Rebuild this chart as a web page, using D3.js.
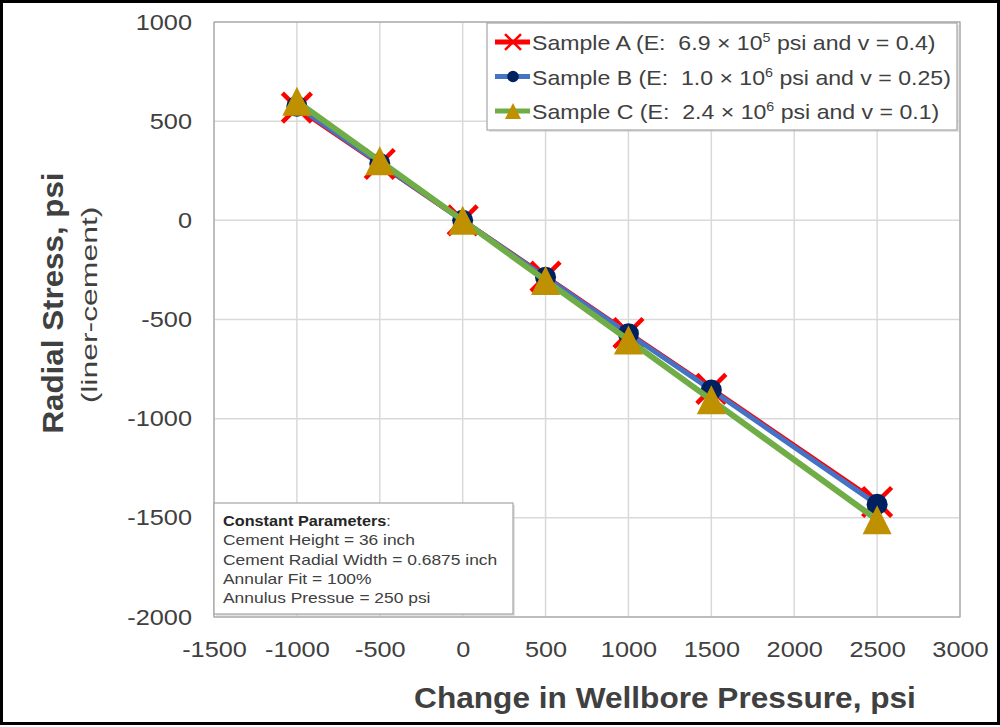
<!DOCTYPE html>
<html>
<head>
<meta charset="utf-8">
<script src="https://cdn.jsdelivr.net/npm/d3@7"></script>
<style>
  html, body { margin: 0; padding: 0; background: #fff; }
  svg { display: block; font-family: "Liberation Sans", Arial, sans-serif; }
  text { white-space: pre; }
</style>
</head>
<body>
<svg id="chart" width="1000" height="727"></svg>
<script>
// Change in wellbore pressure (psi) at which radial stress was evaluated
const pressures = [-1000, -500, 0, 500, 1000, 1500, 2500];

// Radial stress at the liner-cement interface (psi)
const sampleA = [568, 284, 0, -284, -568, -850, -1420];
const sampleB = [575, 287, 0, -287, -572, -855, -1432];
const sampleC = [600, 300, 0, -303, -603, -905, -1510];

const xTicks = [-1500, -1000, -500, 0, 500, 1000, 1500, 2000, 2500, 3000];
const yTicks = [-2000, -1500, -1000, -500, 0, 500, 1000];

const seriesNames = [
  ["Sample A (E:  6.9 × 10", "5", " psi and v = 0.4)"],
  ["Sample B (E:  1.0 × 10", "6", " psi and v = 0.25)"],
  ["Sample C (E:  2.4 × 10", "6", " psi and v = 0.1)"]
];

const noteTitle = "Constant Parameters";
const noteLines = [
  "Cement Height = 36 inch",
  "Cement Radial Width = 0.6875 inch",
  "Annular Fit = 100%",
  "Annulus Pressue = 250 psi"
];

const svg = d3.select("#chart");
const W = 1000, H = 727;
const plot = { left: 214, right: 960, top: 22, bottom: 617 };
const textColor = "#404040";

// widen text runs to the set proportion of their natural width
function widen(sel, factor) {
  sel.each(function () {
    const len = this.getComputedTextLength();
    d3.select(this).attr("textLength", len * factor).attr("lengthAdjust", "spacingAndGlyphs");
  });
}

// outer frame
svg.append("rect").attr("x", 1.5).attr("y", 1.5).attr("width", W - 3).attr("height", H - 5)
  .attr("fill", "#fff").attr("stroke", "#000").attr("stroke-width", 3);

const x = d3.scaleLinear().domain([-1500, 3000]).range([plot.left, plot.right]);
const y = d3.scaleLinear().domain([-2000, 1000]).range([plot.bottom, plot.top]);

// gridlines
const grid = svg.append("g");
grid.selectAll("line.v").data(xTicks).join("line").attr("class", "v")
  .attr("x1", d => x(d)).attr("x2", d => x(d))
  .attr("y1", plot.top).attr("y2", plot.bottom)
  .attr("stroke", "#d9d9d9").attr("stroke-width", 1.5);
grid.selectAll("line.h").data(yTicks).join("line").attr("class", "h")
  .attr("x1", plot.left).attr("x2", plot.right)
  .attr("y1", d => y(d)).attr("y2", d => y(d))
  .attr("stroke", "#d9d9d9").attr("stroke-width", 1.5);

// plot area border
svg.append("rect").attr("x", plot.left).attr("y", plot.top)
  .attr("width", plot.right - plot.left).attr("height", plot.bottom - plot.top)
  .attr("fill", "none").attr("stroke", "#a6a6a6").attr("stroke-width", 1.2);

// axes (labels only)
const fmt = d => String(d);
const xAxis = svg.append("g").attr("transform", `translate(0,${plot.bottom})`)
  .call(d3.axisBottom(x).tickValues(xTicks).tickSize(0).tickPadding(24).tickFormat(fmt));
xAxis.select(".domain").remove();
xAxis.selectAll("text").attr("font-size", 22).attr("fill", textColor)
  .attr("font-family", "Liberation Sans, Arial, sans-serif");
widen(xAxis.selectAll("text"), 1.15);

const yAxis = svg.append("g").attr("transform", `translate(${plot.left},0)`)
  .call(d3.axisLeft(y).tickValues(yTicks).tickSize(0).tickPadding(22).tickFormat(fmt));
yAxis.select(".domain").remove();
yAxis.selectAll("text").attr("font-size", 22).attr("fill", textColor)
  .attr("font-family", "Liberation Sans, Arial, sans-serif");
widen(yAxis.selectAll("text"), 1.15);

// axis titles
const xTitle = svg.append("text").attr("x", 665).attr("y", 708).attr("text-anchor", "middle")
  .attr("font-size", 29).attr("font-weight", "bold").attr("fill", textColor)
  .text("Change in Wellbore Pressure, psi");
widen(xTitle, 1.09);

const yTitle = svg.append("text").attr("transform", "translate(63,303) rotate(-90)")
  .attr("text-anchor", "middle").attr("font-size", 29).attr("font-weight", "bold")
  .attr("fill", textColor).text("Radial Stress, psi");
widen(yTitle, 1.08);
const ySub = svg.append("text").attr("transform", "translate(97,305) rotate(-90)")
  .attr("text-anchor", "middle").attr("font-size", 22)
  .attr("fill", textColor).text("(liner-cement)");
widen(ySub, 1.45);

// series
const series = [
  { values: sampleA, line: "#ff0000", width: 5, marker: "x" },
  { values: sampleB, line: "#4472c4", width: 5, marker: "circle" },
  { values: sampleC, line: "#70ad47", width: 6, marker: "triangle" }
];

const line = d3.line().x(d => x(d[0])).y(d => y(d[1]));

function drawMarker(g, type, cx, cy, scale = 1) {
  if (type === "x") {
    const r = 14.5 * scale;
    g.append("path")
      .attr("d", `M${cx - r},${cy - r}L${cx + r},${cy + r}M${cx - r},${cy + r}L${cx + r},${cy - r}`)
      .attr("stroke", "#ff0000").attr("stroke-width", 4.5 * scale).attr("fill", "none");
  } else if (type === "circle") {
    g.append("circle").attr("cx", cx).attr("cy", cy).attr("r", 10.5 * scale)
      .attr("fill", "#002060");
  } else {
    const h = 29 * scale, w = 29 * scale;
    g.append("path")
      .attr("d", `M${cx},${cy - h / 2}L${cx + w / 2},${cy + h / 2}L${cx - w / 2},${cy + h / 2}Z`)
      .attr("fill", "#bf9000");
  }
}

series.forEach(s => {
  const pts = pressures.map((p, i) => [p, s.values[i]]);
  const g = svg.append("g");
  g.append("path").datum(pts).attr("d", line)
    .attr("fill", "none").attr("stroke", s.line).attr("stroke-width", s.width)
    .attr("stroke-linejoin", "round");
  pts.forEach(p => drawMarker(g, s.marker, x(p[0]), y(p[1])));
});

// legend
const legend = svg.append("g");
legend.append("rect").attr("x", 489).attr("y", 25).attr("width", 470).attr("height", 107)
  .attr("fill", "#c8c8c8").attr("opacity", 0.5);
legend.append("rect").attr("x", 487).attr("y", 23).attr("width", 470).attr("height", 107)
  .attr("fill", "#fff").attr("stroke", "#a6a6a6").attr("stroke-width", 1.2);
series.forEach((s, i) => {
  const ly = 42 + i * 34.5;
  legend.append("line").attr("x1", 495).attr("x2", 530).attr("y1", ly).attr("y2", ly)
    .attr("stroke", s.line).attr("stroke-width", 5);
  drawMarker(legend, s.marker, 513, ly, 0.55);
  const t = legend.append("text").attr("x", 532).attr("y", ly + 8)
    .attr("font-size", 21).attr("fill", textColor);
  t.append("tspan").text(seriesNames[i][0]);
  t.append("tspan").attr("font-size", 13).attr("dy", -8).text(seriesNames[i][1]);
  t.append("tspan").attr("dy", 8).text(seriesNames[i][2]);
  widen(t, 1.1);
});

// constant parameters note
const note = svg.append("g");
note.append("rect").attr("x", 216).attr("y", 505).attr("width", 299).attr("height", 111)
  .attr("fill", "#c8c8c8").attr("opacity", 0.5);
note.append("rect").attr("x", 214).attr("y", 503).attr("width", 299).attr("height", 111)
  .attr("fill", "#fff").attr("stroke", "#a6a6a6").attr("stroke-width", 1.2);
const head = note.append("text").attr("x", 223).attr("y", 526)
  .attr("font-size", 14.5).attr("fill", textColor);
head.append("tspan").attr("font-weight", "bold").attr("fill", "#262626").text(noteTitle);
head.append("tspan").text(":");
widen(head, 1.12);
const lines = note.selectAll("text.line").data(noteLines).join("text")
  .attr("class", "line")
  .attr("x", 223).attr("y", (d, i) => 545.3 + i * 19.3)
  .attr("font-size", 14.5).attr("fill", textColor)
  .text(d => d);
widen(lines, 1.2);
</script>
</body>
</html>
